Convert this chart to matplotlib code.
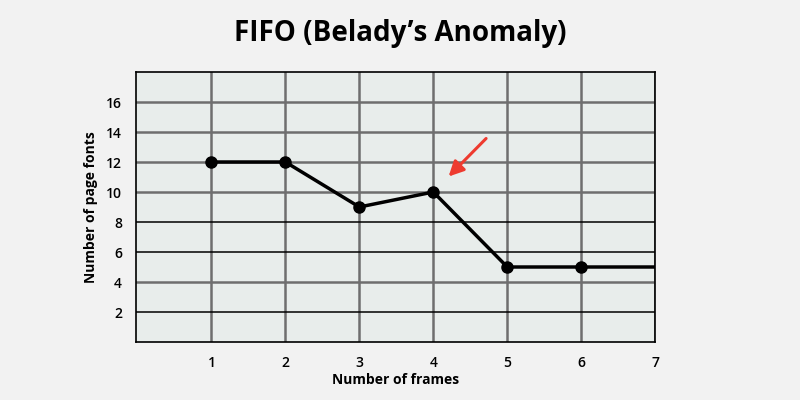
import numpy as np
import matplotlib
matplotlib.use('Agg')
import matplotlib.pyplot as plt

plt.rcParams['font.family'] = ['Open Sans', 'DejaVu Sans']

## data
frames = [1, 2, 3, 4, 5, 6, 7]
page_faults = [12, 12, 9, 10, 5, 5, 5]
x_ticks = [1, 2, 3, 4, 5, 6, 7]
y_ticks = [2, 4, 6, 8, 10, 12, 14, 16]
gray_rows = [4, 10, 12, 14, 16]   # thick gray grid rows, the rest are thin black
black_rows = [2, 6, 8]
arrow_tail = (4.74, 13.7)
arrow_head = (4.18, 10.9)

fig = plt.figure(figsize=(8, 4), dpi=100)
fig.patch.set_facecolor('#f2f2f2')
ax = fig.add_axes([0.17, 0.145, 0.649, 0.675])
ax.set_facecolor('#e8edeb')

ax.set_xlim(-0.02, 7)
ax.set_ylim(0, 18)

# grid
for x in x_ticks:
    ax.axvline(x, color='#6e6e6e', lw=1.8, zorder=1)
for y in gray_rows:
    ax.axhline(y, color='#6e6e6e', lw=1.8, zorder=1)
for y in black_rows:
    ax.axhline(y, color='black', lw=1.1, zorder=1)

ax.plot(frames, page_faults, color='black', lw=2.5, zorder=3)
ax.plot(frames[:-1], page_faults[:-1], 'o', color='black', ms=8, zorder=4)

ax.annotate('', xy=arrow_head, xytext=arrow_tail,
            arrowprops=dict(arrowstyle='-|>,head_length=0.9,head_width=0.45',
                            color='#ee3b2f', lw=2.2), zorder=5)

ax.set_xticks(x_ticks)
ax.set_yticks(y_ticks)
ax.tick_params(length=0, labelsize=10, pad=10)
for lbl in ax.get_xticklabels() + ax.get_yticklabels():
    lbl.set_fontweight('semibold')
for s in ax.spines.values():
    s.set_color('black')
    s.set_linewidth(1.2)

ax.set_xlabel('Number of frames', fontsize=10, fontweight='bold', labelpad=2)
ax.set_ylabel('Number of page fonts', fontsize=10, fontweight='bold', labelpad=6)
fig.text(0.5, 0.915, 'FIFO (Belady\u2019s Anomaly)', ha='center', va='center',
         fontsize=20, fontweight='bold')

plt.savefig('out.png')
